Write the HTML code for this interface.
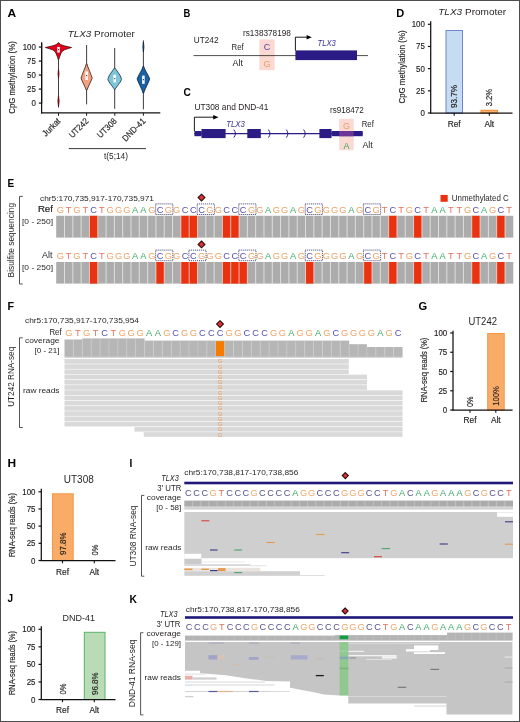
<!DOCTYPE html>
<html lang="en">
<head>
<meta charset="utf-8">
<title>TLX3 allele-specific methylation and expression</title>
<style>
html,body{margin:0;padding:0;background:#fff;}
body{width:520px;height:722px;overflow:hidden;position:relative;}
svg{display:block;position:absolute;left:0;top:0;font-family:"Liberation Sans",sans-serif;fill:#231f20;}
#frame{position:absolute;left:0;top:0;width:518px;height:720px;border:1px solid #4d4d4d;pointer-events:none;}
</style>
</head>
<body>
<svg width="520" height="722" viewBox="0 0 520 722">
<rect x="0" y="0" width="520" height="722" fill="#fff"/>
<text x="7.40" y="17.20" font-size="11.6" fill="#000" font-weight="bold" textLength="8.60" lengthAdjust="spacingAndGlyphs">A</text>
<text x="101.2" y="37.1" font-size="9.3" text-anchor="middle" fill="#231f20" textLength="67" lengthAdjust="spacingAndGlyphs"><tspan font-style="italic">TLX3</tspan> Promoter</text>
<line x1="41.60" y1="42.50" x2="41.60" y2="103.60" stroke="#111" stroke-width="1.25"/>
<line x1="38.80" y1="47.05" x2="41.60" y2="47.05" stroke="#111" stroke-width="1.2"/>
<text font-size="8.4" transform="translate(35.80 50.05) scale(0.94 1)" text-anchor="end" stroke="#231f20" stroke-width="0.16">100</text>
<line x1="38.80" y1="61.06" x2="41.60" y2="61.06" stroke="#111" stroke-width="1.2"/>
<text font-size="8.4" transform="translate(35.80 64.06) scale(0.94 1)" text-anchor="end" stroke="#231f20" stroke-width="0.16">75</text>
<line x1="38.80" y1="75.07" x2="41.60" y2="75.07" stroke="#111" stroke-width="1.2"/>
<text font-size="8.4" transform="translate(35.80 78.07) scale(0.94 1)" text-anchor="end" stroke="#231f20" stroke-width="0.16">50</text>
<line x1="38.80" y1="89.09" x2="41.60" y2="89.09" stroke="#111" stroke-width="1.2"/>
<text font-size="8.4" transform="translate(35.80 92.09) scale(0.94 1)" text-anchor="end" stroke="#231f20" stroke-width="0.16">25</text>
<line x1="38.80" y1="103.10" x2="41.60" y2="103.10" stroke="#111" stroke-width="1.2"/>
<text font-size="8.4" transform="translate(35.80 106.10) scale(0.94 1)" text-anchor="end" stroke="#231f20" stroke-width="0.16">0</text>
<line x1="41.60" y1="42.50" x2="41.60" y2="113.40" stroke="#111" stroke-width="1.25"/>
<line x1="41.00" y1="112.90" x2="160.30" y2="112.90" stroke="#111" stroke-width="1.25"/>
<text x="14.60" y="77.50" font-size="9.5" transform="rotate(-90 14.60 77.50)" text-anchor="middle" textLength="72.50" lengthAdjust="spacingAndGlyphs" stroke="#231f20" stroke-width="0.16">CpG methylation (%)</text>
<line x1="58.50" y1="112.80" x2="58.50" y2="115.80" stroke="#231f20" stroke-width="1"/>
<line x1="86.60" y1="112.80" x2="86.60" y2="115.80" stroke="#231f20" stroke-width="1"/>
<line x1="114.80" y1="112.80" x2="114.80" y2="115.80" stroke="#231f20" stroke-width="1"/>
<line x1="143.40" y1="112.80" x2="143.40" y2="115.80" stroke="#231f20" stroke-width="1"/>
<line x1="58.50" y1="42.80" x2="58.50" y2="107.50" stroke="#241a1c" stroke-width="0.85"/>
<path d="M58.50 69.30Q59.60 73.80 58.50 78.30Q57.40 73.80 58.50 69.30Z" fill="#e2001a" stroke="#4a0a0e" stroke-width="0.7"/>
<path d="M58.50 95.70Q59.90 101.20 58.50 106.70Q57.10 101.20 58.50 95.70Z" fill="#e2001a" stroke="#4a0a0e" stroke-width="0.7"/>
<path d="M58.20 42.80L56.30 44.60L53.00 45.80L48.50 46.80L45.40 47.50L49.00 48.60L52.50 49.80L54.70 51.20L55.90 53.00L56.70 55.00L57.60 57.50L58.20 59.50L58.80 59.50L59.40 57.50L60.30 55.00L61.10 53.00L62.30 51.20L64.50 49.80L68.00 48.60L71.60 47.50L68.50 46.80L64.00 45.80L60.70 44.60L58.80 42.80Z" fill="#e2001a" stroke="#4a0a0e" stroke-width="0.8" stroke-linejoin="round"/>
<rect x="57.25" y="46.90" width="2.50" height="5.60" fill="#fff"/>
<rect x="57.90" y="49.20" width="1.20" height="1.00" fill="#4a0a0e"/>
<line x1="86.60" y1="45.00" x2="86.60" y2="104.40" stroke="#241a1c" stroke-width="0.85"/>
<path d="M86.30 63.80L85.30 67.00L83.80 70.50L82.30 74.50L81.00 78.10L82.20 81.00L83.60 84.00L85.00 87.00L85.80 89.00L86.30 90.20L86.90 90.20L87.40 89.00L88.20 87.00L89.60 84.00L91.00 81.00L92.20 78.10L90.90 74.50L89.40 70.50L87.90 67.00L86.90 63.80Z" fill="#f2a283" stroke="#3a1e16" stroke-width="0.8" stroke-linejoin="round"/>
<rect x="85.35" y="71.30" width="2.50" height="8.70" fill="#fff"/>
<rect x="86.00" y="75.15" width="1.20" height="1.00" fill="#3a1e16"/>
<line x1="114.70" y1="48.00" x2="114.70" y2="108.80" stroke="#241a1c" stroke-width="0.85"/>
<path d="M114.40 68.00L113.10 70.00L110.90 73.00L109.00 76.00L107.80 79.40L109.10 82.00L110.90 84.50L112.80 87.00L114.00 88.80L114.40 89.60L115.00 89.60L115.40 88.80L116.60 87.00L118.50 84.50L120.30 82.00L121.60 79.40L120.40 76.00L118.50 73.00L116.30 70.00L115.00 68.00Z" fill="#7fc6dd" stroke="#14343c" stroke-width="0.8" stroke-linejoin="round"/>
<rect x="113.45" y="74.80" width="2.50" height="7.70" fill="#fff"/>
<rect x="114.10" y="78.15" width="1.20" height="1.00" fill="#14343c"/>
<line x1="143.40" y1="40.30" x2="143.40" y2="109.40" stroke="#241a1c" stroke-width="0.85"/>
<path d="M143.40 42.00Q144.60 47.00 143.40 52.00Q142.20 47.00 143.40 42.00Z" fill="#1b62a4" stroke="#0a2238" stroke-width="0.7"/>
<path d="M143.10 66.20L142.10 69.00L140.60 72.00L138.60 75.50L137.10 78.80L138.30 82.00L139.90 85.50L141.30 88.50L142.40 91.00L143.10 93.20L143.70 93.20L144.40 91.00L145.50 88.50L146.90 85.50L148.50 82.00L149.70 78.80L148.20 75.50L146.20 72.00L144.70 69.00L143.70 66.20Z" fill="#1b62a4" stroke="#0a2238" stroke-width="0.8" stroke-linejoin="round"/>
<rect x="142.15" y="75.60" width="2.50" height="8.20" fill="#fff"/>
<rect x="142.80" y="79.20" width="1.20" height="1.00" fill="#0a2238"/>
<text font-size="8.8" transform="translate(61.10 121.70) rotate(-45) scale(0.9 1)" text-anchor="end" stroke="#231f20" stroke-width="0.16">Jurkat</text>
<text font-size="8.8" transform="translate(89.20 121.70) rotate(-45) scale(0.9 1)" text-anchor="end" stroke="#231f20" stroke-width="0.16">UT242</text>
<text font-size="8.8" transform="translate(117.40 121.70) rotate(-45) scale(0.9 1)" text-anchor="end" stroke="#231f20" stroke-width="0.16">UT308</text>
<text font-size="8.8" transform="translate(146.00 121.70) rotate(-45) scale(0.9 1)" text-anchor="end" stroke="#231f20" stroke-width="0.16">DND-41</text>
<line x1="68.80" y1="148.60" x2="146.00" y2="148.60" stroke="#231f20" stroke-width="0.9"/>
<text x="116.00" y="159.20" font-size="8.5" text-anchor="middle" textLength="24.00" lengthAdjust="spacingAndGlyphs">t(5;14)</text>
<text x="183.50" y="17.30" font-size="11.6" fill="#000" font-weight="bold" textLength="6.80" lengthAdjust="spacingAndGlyphs">B</text>
<text x="193.80" y="43.30" font-size="9" textLength="24.70" lengthAdjust="spacingAndGlyphs">UT242</text>
<text x="242.90" y="36.20" font-size="8.5" textLength="48.00" lengthAdjust="spacingAndGlyphs">rs138378198</text>
<rect x="259.40" y="39.40" width="15.20" height="30.80" fill="#fbd8d1"/>
<text x="231.50" y="49.80" font-size="8.5" textLength="12.20" lengthAdjust="spacingAndGlyphs">Ref</text>
<text x="232.50" y="66.40" font-size="8.5" textLength="10.40" lengthAdjust="spacingAndGlyphs">Alt</text>
<text x="267.00" y="49.90" font-size="9" text-anchor="middle" fill="#4e47a6">C</text>
<text x="267.00" y="66.60" font-size="9" text-anchor="middle" fill="#eb9e5c">G</text>
<line x1="193.50" y1="55.60" x2="368.00" y2="55.60" stroke="#231f20" stroke-width="0.8"/>
<rect x="295.40" y="50.40" width="61.60" height="9.70" fill="#2a1c84"/>
<path d="M295.4 50.6V37.2H308" fill="none" stroke="#000" stroke-width="0.9"/>
<path d="M306.6 34.9L311.8 37.2L306.6 39.5Z" fill="#000"/>
<text x="317.50" y="45.70" font-size="9" fill="#3b2f96" font-style="italic" textLength="18.30" lengthAdjust="spacingAndGlyphs">TLX3</text>
<text x="183.50" y="96.40" font-size="11.6" fill="#000" font-weight="bold" textLength="7.30" lengthAdjust="spacingAndGlyphs">C</text>
<text x="194.40" y="109.90" font-size="9" textLength="74.00" lengthAdjust="spacingAndGlyphs">UT308 and DND-41</text>
<text x="330.00" y="113.10" font-size="8.5" textLength="33.70" lengthAdjust="spacingAndGlyphs">rs918472</text>
<path d="M194.4 131V117.2H214" fill="none" stroke="#000" stroke-width="0.9"/>
<path d="M213.2 114.9L218.5 117.2L213.2 119.5Z" fill="#000"/>
<text x="226.20" y="126.60" font-size="9" fill="#3b2f96" font-style="italic" textLength="18.60" lengthAdjust="spacingAndGlyphs">TLX3</text>
<rect x="339.20" y="118.80" width="14.50" height="31.40" fill="#fbdad4"/>
<line x1="194.40" y1="133.60" x2="362.70" y2="133.60" stroke="#2a1c84" stroke-width="1.1"/>
<rect x="194.40" y="131.00" width="7.20" height="5.20" fill="#2a1c84"/>
<rect x="201.50" y="129.00" width="24.10" height="9.10" fill="#2a1c84"/>
<rect x="247.30" y="129.00" width="13.50" height="9.10" fill="#2a1c84"/>
<rect x="319.40" y="129.00" width="12.10" height="9.10" fill="#2a1c84"/>
<rect x="331.50" y="131.00" width="31.20" height="5.20" fill="#2a1c84"/>
<path d="M233.8 129.6Q237.0 133.6 233.8 137.6" fill="none" stroke="#2a1c84" stroke-width="1"/>
<path d="M268.4 129.6Q271.6 133.6 268.4 137.6" fill="none" stroke="#2a1c84" stroke-width="1"/>
<path d="M286.3 129.6Q289.5 133.6 286.3 137.6" fill="none" stroke="#2a1c84" stroke-width="1"/>
<path d="M303.6 129.6Q306.8 133.6 303.6 137.6" fill="none" stroke="#2a1c84" stroke-width="1"/>
<rect x="339.20" y="131.00" width="14.50" height="5.20" fill="#6c3596"/>
<text x="346.50" y="128.60" font-size="9" text-anchor="middle" fill="#eb9e5c">G</text>
<text x="346.50" y="148.80" font-size="9" text-anchor="middle" fill="#36a862">A</text>
<text x="361.70" y="127.10" font-size="8.5" textLength="12.20" lengthAdjust="spacingAndGlyphs">Ref</text>
<text x="362.40" y="147.80" font-size="8.5" textLength="10.40" lengthAdjust="spacingAndGlyphs">Alt</text>
<text x="396.20" y="16.80" font-size="11.6" fill="#000" font-weight="bold" textLength="8.00" lengthAdjust="spacingAndGlyphs">D</text>
<text x="472.2" y="15.1" font-size="9.2" text-anchor="middle" fill="#231f20" textLength="68" lengthAdjust="spacingAndGlyphs"><tspan font-style="italic">TLX3</tspan> Promoter</text>
<rect x="446.00" y="30.50" width="16.50" height="82.50" fill="#c6dcf3" stroke="#6d86d2" stroke-width="1"/>
<rect x="481.00" y="110.30" width="16.50" height="2.70" fill="#fbb16c" stroke="#f08a2e" stroke-width="1"/>
<line x1="430.70" y1="21.20" x2="430.70" y2="113.50" stroke="#111" stroke-width="1.25"/>
<line x1="427.90" y1="24.30" x2="430.70" y2="24.30" stroke="#111" stroke-width="1.2"/>
<text font-size="8.4" transform="translate(424.90 27.30) scale(0.94 1)" text-anchor="end" stroke="#231f20" stroke-width="0.16">100</text>
<line x1="427.90" y1="46.47" x2="430.70" y2="46.47" stroke="#111" stroke-width="1.2"/>
<text font-size="8.4" transform="translate(424.90 49.47) scale(0.94 1)" text-anchor="end" stroke="#231f20" stroke-width="0.16">75</text>
<line x1="427.90" y1="68.65" x2="430.70" y2="68.65" stroke="#111" stroke-width="1.2"/>
<text font-size="8.4" transform="translate(424.90 71.65) scale(0.94 1)" text-anchor="end" stroke="#231f20" stroke-width="0.16">50</text>
<line x1="427.90" y1="90.83" x2="430.70" y2="90.83" stroke="#111" stroke-width="1.2"/>
<text font-size="8.4" transform="translate(424.90 93.83) scale(0.94 1)" text-anchor="end" stroke="#231f20" stroke-width="0.16">25</text>
<line x1="427.90" y1="113.00" x2="430.70" y2="113.00" stroke="#111" stroke-width="1.2"/>
<text font-size="8.4" transform="translate(424.90 116.00) scale(0.94 1)" text-anchor="end" stroke="#231f20" stroke-width="0.16">0</text>
<line x1="430.10" y1="113.00" x2="512.50" y2="113.00" stroke="#111" stroke-width="1.25"/>
<line x1="454.20" y1="113.00" x2="454.20" y2="115.70" stroke="#111" stroke-width="1.1"/>
<text x="454.20" y="126.50" font-size="8.3" text-anchor="middle" stroke="#231f20" stroke-width="0.16">Ref</text>
<text x="457.40" y="108.00" font-size="9.4" transform="rotate(-90 457.40 108.00)" textLength="23.00" lengthAdjust="spacingAndGlyphs" stroke="#231f20" stroke-width="0.16">93.7%</text>
<line x1="489.30" y1="113.00" x2="489.30" y2="115.70" stroke="#111" stroke-width="1.1"/>
<text x="489.30" y="126.50" font-size="8.3" text-anchor="middle" stroke="#231f20" stroke-width="0.16">Alt</text>
<text x="492.50" y="106.30" font-size="9.4" transform="rotate(-90 492.50 106.30)" textLength="17.50" lengthAdjust="spacingAndGlyphs" stroke="#231f20" stroke-width="0.16">3.2%</text>
<text x="404.50" y="67.00" font-size="9.5" transform="rotate(-90 404.50 67.00)" text-anchor="middle" textLength="73.00" lengthAdjust="spacingAndGlyphs" stroke="#231f20" stroke-width="0.16">CpG methylation (%)</text>
<text x="7.50" y="187.20" font-size="11.6" fill="#000" font-weight="bold" textLength="6.70" lengthAdjust="spacingAndGlyphs">E</text>
<path d="M22.80 196.40H19.50V284.00H22.80" fill="none" stroke="#2a2a2a" stroke-width="0.8"/>
<text x="14.40" y="240.20" font-size="9.2" transform="rotate(-90 14.40 240.20)" text-anchor="middle" textLength="74.50" lengthAdjust="spacingAndGlyphs">Bisulfite sequencing</text>
<text x="40.00" y="200.60" font-size="8" textLength="114.00" lengthAdjust="spacingAndGlyphs">chr5:170,735,917-170,735,971</text>
<text x="52.90" y="212.20" font-size="9.6" text-anchor="end" textLength="15.00" lengthAdjust="spacingAndGlyphs" stroke="#231f20" stroke-width="0.22">Ref</text>
<text x="53.00" y="223.70" font-size="8" text-anchor="end" textLength="31.00" lengthAdjust="spacingAndGlyphs">[0 - 250]</text>
<text y="212.80" font-size="9.69" text-anchor="middle" fill-opacity="0.95" transform="scale(0.96 1)"><tspan x="62.87" fill="#eb9e5c">G</tspan><tspan x="71.53" fill="#e26a54">T</tspan><tspan x="80.18" fill="#eb9e5c">G</tspan><tspan x="88.84" fill="#e26a54">T</tspan><tspan x="97.50" fill="#4e47a6">C</tspan><tspan x="106.16" fill="#e26a54">T</tspan><tspan x="114.81" fill="#eb9e5c">G</tspan><tspan x="123.47" fill="#eb9e5c">G</tspan><tspan x="132.13" fill="#eb9e5c">G</tspan><tspan x="140.79" fill="#36a862">A</tspan><tspan x="149.44" fill="#36a862">A</tspan><tspan x="158.10" fill="#eb9e5c">G</tspan><tspan x="166.76" fill="#4e47a6">C</tspan><tspan x="175.41" fill="#eb9e5c">G</tspan><tspan x="184.07" fill="#eb9e5c">G</tspan><tspan x="192.73" fill="#4e47a6">C</tspan><tspan x="201.39" fill="#4e47a6">C</tspan><tspan x="210.04" fill="#4e47a6">C</tspan><tspan x="218.70" fill="#eb9e5c">G</tspan><tspan x="227.36" fill="#eb9e5c">G</tspan><tspan x="236.01" fill="#4e47a6">C</tspan><tspan x="244.67" fill="#4e47a6">C</tspan><tspan x="253.33" fill="#4e47a6">C</tspan><tspan x="261.99" fill="#eb9e5c">G</tspan><tspan x="270.64" fill="#eb9e5c">G</tspan><tspan x="279.30" fill="#36a862">A</tspan><tspan x="287.96" fill="#eb9e5c">G</tspan><tspan x="296.61" fill="#eb9e5c">G</tspan><tspan x="305.27" fill="#36a862">A</tspan><tspan x="313.93" fill="#eb9e5c">G</tspan><tspan x="322.59" fill="#4e47a6">C</tspan><tspan x="331.24" fill="#eb9e5c">G</tspan><tspan x="339.90" fill="#eb9e5c">G</tspan><tspan x="348.56" fill="#eb9e5c">G</tspan><tspan x="357.21" fill="#eb9e5c">G</tspan><tspan x="365.87" fill="#36a862">A</tspan><tspan x="374.53" fill="#eb9e5c">G</tspan><tspan x="383.19" fill="#4e47a6">C</tspan><tspan x="391.84" fill="#eb9e5c">G</tspan><tspan x="400.50" fill="#e26a54">T</tspan><tspan x="409.16" fill="#4e47a6">C</tspan><tspan x="417.82" fill="#e26a54">T</tspan><tspan x="426.47" fill="#eb9e5c">G</tspan><tspan x="435.13" fill="#4e47a6">C</tspan><tspan x="443.79" fill="#e26a54">T</tspan><tspan x="452.44" fill="#36a862">A</tspan><tspan x="461.10" fill="#36a862">A</tspan><tspan x="469.76" fill="#e26a54">T</tspan><tspan x="478.42" fill="#e26a54">T</tspan><tspan x="487.07" fill="#eb9e5c">G</tspan><tspan x="495.73" fill="#4e47a6">C</tspan><tspan x="504.39" fill="#36a862">A</tspan><tspan x="513.04" fill="#eb9e5c">G</tspan><tspan x="521.70" fill="#4e47a6">C</tspan><tspan x="530.36" fill="#e26a54">T</tspan></text>
<rect x="155.63" y="203.90" width="17.22" height="10.60" fill="none" stroke="#1e1e55" stroke-width="0.85" stroke-dasharray="1 1"/>
<rect x="197.19" y="203.90" width="17.22" height="10.60" fill="none" stroke="#1e1e55" stroke-width="0.85" stroke-dasharray="1 1"/>
<rect x="238.74" y="203.90" width="17.22" height="10.60" fill="none" stroke="#1e1e55" stroke-width="0.85" stroke-dasharray="1 1"/>
<rect x="305.23" y="203.90" width="17.22" height="10.60" fill="none" stroke="#1e1e55" stroke-width="0.85" stroke-dasharray="1 1"/>
<rect x="363.40" y="203.90" width="17.22" height="10.60" fill="none" stroke="#1e1e55" stroke-width="0.85" stroke-dasharray="1 1"/>
<rect x="56.20" y="215.80" width="457.10" height="21.80" fill="#acacac"/>
<rect x="89.44" y="215.80" width="8.31" height="21.80" fill="#ea3210"/>
<rect x="180.86" y="215.80" width="8.31" height="21.80" fill="#ea3210"/>
<rect x="189.17" y="215.80" width="8.31" height="21.80" fill="#ea3210"/>
<rect x="222.42" y="215.80" width="8.31" height="21.80" fill="#ea3210"/>
<rect x="230.73" y="215.80" width="8.31" height="21.80" fill="#ea3210"/>
<rect x="388.64" y="215.80" width="8.31" height="21.80" fill="#ea3210"/>
<rect x="413.57" y="215.80" width="8.31" height="21.80" fill="#ea3210"/>
<rect x="471.75" y="215.80" width="8.31" height="21.80" fill="#ea3210"/>
<rect x="496.68" y="215.80" width="8.31" height="21.80" fill="#ea3210"/>
<path d="M64.51 215.80v21.80M72.82 215.80v21.80M81.13 215.80v21.80M89.44 215.80v21.80M97.75 215.80v21.80M106.07 215.80v21.80M114.38 215.80v21.80M122.69 215.80v21.80M131.00 215.80v21.80M139.31 215.80v21.80M147.62 215.80v21.80M155.93 215.80v21.80M164.24 215.80v21.80M172.55 215.80v21.80M180.86 215.80v21.80M189.17 215.80v21.80M197.49 215.80v21.80M205.80 215.80v21.80M214.11 215.80v21.80M222.42 215.80v21.80M230.73 215.80v21.80M239.04 215.80v21.80M247.35 215.80v21.80M255.66 215.80v21.80M263.97 215.80v21.80M272.28 215.80v21.80M280.59 215.80v21.80M288.91 215.80v21.80M297.22 215.80v21.80M305.53 215.80v21.80M313.84 215.80v21.80M322.15 215.80v21.80M330.46 215.80v21.80M338.77 215.80v21.80M347.08 215.80v21.80M355.39 215.80v21.80M363.70 215.80v21.80M372.01 215.80v21.80M380.33 215.80v21.80M388.64 215.80v21.80M396.95 215.80v21.80M405.26 215.80v21.80M413.57 215.80v21.80M421.88 215.80v21.80M430.19 215.80v21.80M438.50 215.80v21.80M446.81 215.80v21.80M455.12 215.80v21.80M463.43 215.80v21.80M471.75 215.80v21.80M480.06 215.80v21.80M488.37 215.80v21.80M496.68 215.80v21.80M504.99 215.80v21.80" fill="none" stroke="#fff" stroke-width="0.9" stroke-opacity="0.68"/>
<path d="M201.50 194.20L204.90 197.60L201.50 201.00L198.10 197.60Z" fill="#e2303a" stroke="#2a0c0c" stroke-width="1.1" stroke-linejoin="miter"/>
<text x="52.50" y="258.20" font-size="8.5" text-anchor="end" textLength="10.40" lengthAdjust="spacingAndGlyphs">Alt</text>
<text x="53.00" y="269.60" font-size="8" text-anchor="end" textLength="31.00" lengthAdjust="spacingAndGlyphs">[0 - 250]</text>
<text y="259.00" font-size="9.69" text-anchor="middle" fill-opacity="0.95" transform="scale(0.96 1)"><tspan x="62.87" fill="#eb9e5c">G</tspan><tspan x="71.53" fill="#e26a54">T</tspan><tspan x="80.18" fill="#eb9e5c">G</tspan><tspan x="88.84" fill="#e26a54">T</tspan><tspan x="97.50" fill="#4e47a6">C</tspan><tspan x="106.16" fill="#e26a54">T</tspan><tspan x="114.81" fill="#eb9e5c">G</tspan><tspan x="123.47" fill="#eb9e5c">G</tspan><tspan x="132.13" fill="#eb9e5c">G</tspan><tspan x="140.79" fill="#36a862">A</tspan><tspan x="149.44" fill="#36a862">A</tspan><tspan x="158.10" fill="#eb9e5c">G</tspan><tspan x="166.76" fill="#4e47a6">C</tspan><tspan x="175.41" fill="#eb9e5c">G</tspan><tspan x="184.07" fill="#eb9e5c">G</tspan><tspan x="192.73" fill="#4e47a6">C</tspan><tspan x="201.39" fill="#4e47a6">C</tspan><tspan x="210.04" fill="#eb9e5c">G</tspan><tspan x="218.70" fill="#eb9e5c">G</tspan><tspan x="227.36" fill="#eb9e5c">G</tspan><tspan x="236.01" fill="#4e47a6">C</tspan><tspan x="244.67" fill="#4e47a6">C</tspan><tspan x="253.33" fill="#4e47a6">C</tspan><tspan x="261.99" fill="#eb9e5c">G</tspan><tspan x="270.64" fill="#eb9e5c">G</tspan><tspan x="279.30" fill="#36a862">A</tspan><tspan x="287.96" fill="#eb9e5c">G</tspan><tspan x="296.61" fill="#eb9e5c">G</tspan><tspan x="305.27" fill="#36a862">A</tspan><tspan x="313.93" fill="#eb9e5c">G</tspan><tspan x="322.59" fill="#4e47a6">C</tspan><tspan x="331.24" fill="#eb9e5c">G</tspan><tspan x="339.90" fill="#eb9e5c">G</tspan><tspan x="348.56" fill="#eb9e5c">G</tspan><tspan x="357.21" fill="#eb9e5c">G</tspan><tspan x="365.87" fill="#36a862">A</tspan><tspan x="374.53" fill="#eb9e5c">G</tspan><tspan x="383.19" fill="#4e47a6">C</tspan><tspan x="391.84" fill="#eb9e5c">G</tspan><tspan x="400.50" fill="#e26a54">T</tspan><tspan x="409.16" fill="#4e47a6">C</tspan><tspan x="417.82" fill="#e26a54">T</tspan><tspan x="426.47" fill="#eb9e5c">G</tspan><tspan x="435.13" fill="#4e47a6">C</tspan><tspan x="443.79" fill="#e26a54">T</tspan><tspan x="452.44" fill="#36a862">A</tspan><tspan x="461.10" fill="#36a862">A</tspan><tspan x="469.76" fill="#e26a54">T</tspan><tspan x="478.42" fill="#e26a54">T</tspan><tspan x="487.07" fill="#eb9e5c">G</tspan><tspan x="495.73" fill="#4e47a6">C</tspan><tspan x="504.39" fill="#36a862">A</tspan><tspan x="513.04" fill="#eb9e5c">G</tspan><tspan x="521.70" fill="#4e47a6">C</tspan><tspan x="530.36" fill="#e26a54">T</tspan></text>
<rect x="155.63" y="250.10" width="17.22" height="10.60" fill="none" stroke="#1e1e55" stroke-width="0.85" stroke-dasharray="1 1"/>
<rect x="188.87" y="250.10" width="17.22" height="10.60" fill="none" stroke="#1e1e55" stroke-width="0.85" stroke-dasharray="1 1"/>
<rect x="238.74" y="250.10" width="17.22" height="10.60" fill="none" stroke="#1e1e55" stroke-width="0.85" stroke-dasharray="1 1"/>
<rect x="305.23" y="250.10" width="17.22" height="10.60" fill="none" stroke="#1e1e55" stroke-width="0.85" stroke-dasharray="1 1"/>
<rect x="363.40" y="250.10" width="17.22" height="10.60" fill="none" stroke="#1e1e55" stroke-width="0.85" stroke-dasharray="1 1"/>
<rect x="56.20" y="262.00" width="457.10" height="21.60" fill="#acacac"/>
<rect x="89.44" y="262.00" width="8.31" height="21.60" fill="#ea3210"/>
<rect x="155.93" y="262.00" width="8.31" height="21.60" fill="#ea3210"/>
<rect x="180.86" y="262.00" width="8.31" height="21.60" fill="#ea3210"/>
<rect x="189.17" y="262.00" width="8.31" height="21.60" fill="#ea3210"/>
<rect x="222.42" y="262.00" width="8.31" height="21.60" fill="#ea3210"/>
<rect x="230.73" y="262.00" width="8.31" height="21.60" fill="#ea3210"/>
<rect x="239.04" y="262.00" width="8.31" height="21.60" fill="#ea3210"/>
<rect x="305.53" y="262.00" width="8.31" height="21.60" fill="#ea3210"/>
<rect x="363.70" y="262.00" width="8.31" height="21.60" fill="#ea3210"/>
<rect x="388.64" y="262.00" width="8.31" height="21.60" fill="#ea3210"/>
<rect x="413.57" y="262.00" width="8.31" height="21.60" fill="#ea3210"/>
<rect x="471.75" y="262.00" width="8.31" height="21.60" fill="#ea3210"/>
<rect x="496.68" y="262.00" width="8.31" height="21.60" fill="#ea3210"/>
<path d="M64.51 262.00v21.60M72.82 262.00v21.60M81.13 262.00v21.60M89.44 262.00v21.60M97.75 262.00v21.60M106.07 262.00v21.60M114.38 262.00v21.60M122.69 262.00v21.60M131.00 262.00v21.60M139.31 262.00v21.60M147.62 262.00v21.60M155.93 262.00v21.60M164.24 262.00v21.60M172.55 262.00v21.60M180.86 262.00v21.60M189.17 262.00v21.60M197.49 262.00v21.60M205.80 262.00v21.60M214.11 262.00v21.60M222.42 262.00v21.60M230.73 262.00v21.60M239.04 262.00v21.60M247.35 262.00v21.60M255.66 262.00v21.60M263.97 262.00v21.60M272.28 262.00v21.60M280.59 262.00v21.60M288.91 262.00v21.60M297.22 262.00v21.60M305.53 262.00v21.60M313.84 262.00v21.60M322.15 262.00v21.60M330.46 262.00v21.60M338.77 262.00v21.60M347.08 262.00v21.60M355.39 262.00v21.60M363.70 262.00v21.60M372.01 262.00v21.60M380.33 262.00v21.60M388.64 262.00v21.60M396.95 262.00v21.60M405.26 262.00v21.60M413.57 262.00v21.60M421.88 262.00v21.60M430.19 262.00v21.60M438.50 262.00v21.60M446.81 262.00v21.60M455.12 262.00v21.60M463.43 262.00v21.60M471.75 262.00v21.60M480.06 262.00v21.60M488.37 262.00v21.60M496.68 262.00v21.60M504.99 262.00v21.60" fill="none" stroke="#fff" stroke-width="0.9" stroke-opacity="0.68"/>
<path d="M201.50 241.00L204.90 244.40L201.50 247.80L198.10 244.40Z" fill="#e2303a" stroke="#2a0c0c" stroke-width="1.1" stroke-linejoin="miter"/>
<rect x="440.50" y="194.90" width="7.20" height="6.90" fill="#ea3210"/>
<text x="451.80" y="201.00" font-size="8.4" textLength="57.00" lengthAdjust="spacingAndGlyphs">Unmethylated C</text>
<text x="7.50" y="309.60" font-size="11.6" fill="#000" font-weight="bold" textLength="6.50" lengthAdjust="spacingAndGlyphs">F</text>
<text x="25.00" y="322.60" font-size="8" textLength="114.00" lengthAdjust="spacingAndGlyphs">chr5:170,735,917-170,735,954</text>
<text x="61.70" y="335.10" font-size="8.5" text-anchor="end" textLength="12.30" lengthAdjust="spacingAndGlyphs">Ref</text>
<text y="335.90" font-size="9.69" text-anchor="middle" fill-opacity="0.95" transform="scale(0.96 1)"><tspan x="71.82" fill="#eb9e5c">G</tspan><tspan x="81.09" fill="#e26a54">T</tspan><tspan x="90.35" fill="#eb9e5c">G</tspan><tspan x="99.62" fill="#e26a54">T</tspan><tspan x="108.88" fill="#4e47a6">C</tspan><tspan x="118.15" fill="#e26a54">T</tspan><tspan x="127.41" fill="#eb9e5c">G</tspan><tspan x="136.68" fill="#eb9e5c">G</tspan><tspan x="145.94" fill="#eb9e5c">G</tspan><tspan x="155.21" fill="#36a862">A</tspan><tspan x="164.47" fill="#36a862">A</tspan><tspan x="173.74" fill="#eb9e5c">G</tspan><tspan x="183.00" fill="#4e47a6">C</tspan><tspan x="192.27" fill="#eb9e5c">G</tspan><tspan x="201.54" fill="#eb9e5c">G</tspan><tspan x="210.80" fill="#4e47a6">C</tspan><tspan x="220.07" fill="#4e47a6">C</tspan><tspan x="229.33" fill="#4e47a6">C</tspan><tspan x="238.60" fill="#eb9e5c">G</tspan><tspan x="247.86" fill="#eb9e5c">G</tspan><tspan x="257.13" fill="#4e47a6">C</tspan><tspan x="266.39" fill="#4e47a6">C</tspan><tspan x="275.66" fill="#4e47a6">C</tspan><tspan x="284.92" fill="#eb9e5c">G</tspan><tspan x="294.19" fill="#eb9e5c">G</tspan><tspan x="303.45" fill="#36a862">A</tspan><tspan x="312.72" fill="#eb9e5c">G</tspan><tspan x="321.98" fill="#eb9e5c">G</tspan><tspan x="331.25" fill="#36a862">A</tspan><tspan x="340.52" fill="#eb9e5c">G</tspan><tspan x="349.78" fill="#4e47a6">C</tspan><tspan x="359.05" fill="#eb9e5c">G</tspan><tspan x="368.31" fill="#eb9e5c">G</tspan><tspan x="377.58" fill="#eb9e5c">G</tspan><tspan x="386.84" fill="#eb9e5c">G</tspan><tspan x="396.11" fill="#36a862">A</tspan><tspan x="405.37" fill="#eb9e5c">G</tspan><tspan x="414.64" fill="#4e47a6">C</tspan></text>
<path d="M220.00 320.70L223.40 324.10L220.00 327.50L216.60 324.10Z" fill="#e2303a" stroke="#2a0c0c" stroke-width="1.1" stroke-linejoin="miter"/>
<path d="M22.80 337.80H19.50V427.50H22.80" fill="none" stroke="#2a2a2a" stroke-width="0.8"/>
<text x="14.40" y="376.80" font-size="8.8" transform="rotate(-90 14.40 376.80)" text-anchor="middle" textLength="60.00" lengthAdjust="spacingAndGlyphs">UT242 RNA-seq</text>
<text x="59.50" y="343.20" font-size="8" text-anchor="end" textLength="34.50" lengthAdjust="spacingAndGlyphs">coverage</text>
<text x="59.50" y="353.20" font-size="8" text-anchor="end" textLength="25.00" lengthAdjust="spacingAndGlyphs">[0 - 21]</text>
<text x="59.50" y="392.60" font-size="8" text-anchor="end" textLength="36.50" lengthAdjust="spacingAndGlyphs">raw reads</text>
<rect x="64.50" y="339.50" width="8.94" height="17.40" fill="#b6b6b6"/>
<rect x="73.39" y="339.50" width="8.94" height="17.40" fill="#b6b6b6"/>
<rect x="82.29" y="338.40" width="8.94" height="18.50" fill="#b6b6b6"/>
<rect x="91.18" y="338.40" width="8.94" height="18.50" fill="#b6b6b6"/>
<rect x="100.08" y="338.40" width="8.94" height="18.50" fill="#b6b6b6"/>
<rect x="108.97" y="338.40" width="8.94" height="18.50" fill="#b6b6b6"/>
<rect x="117.87" y="338.40" width="8.94" height="18.50" fill="#b6b6b6"/>
<rect x="126.76" y="338.40" width="8.94" height="18.50" fill="#b6b6b6"/>
<rect x="135.66" y="338.40" width="8.94" height="18.50" fill="#b6b6b6"/>
<rect x="144.55" y="340.60" width="8.94" height="16.30" fill="#b6b6b6"/>
<rect x="153.45" y="340.60" width="8.94" height="16.30" fill="#b6b6b6"/>
<rect x="162.34" y="340.60" width="8.94" height="16.30" fill="#b6b6b6"/>
<rect x="171.24" y="340.60" width="8.94" height="16.30" fill="#b6b6b6"/>
<rect x="180.13" y="340.60" width="8.94" height="16.30" fill="#b6b6b6"/>
<rect x="189.03" y="340.60" width="8.94" height="16.30" fill="#b6b6b6"/>
<rect x="197.92" y="340.60" width="8.94" height="16.30" fill="#b6b6b6"/>
<rect x="206.82" y="340.60" width="8.94" height="16.30" fill="#b6b6b6"/>
<rect x="215.71" y="340.60" width="8.94" height="16.30" fill="#b6b6b6"/>
<rect x="224.61" y="340.60" width="8.94" height="16.30" fill="#b6b6b6"/>
<rect x="233.50" y="340.60" width="8.94" height="16.30" fill="#b6b6b6"/>
<rect x="242.39" y="340.60" width="8.94" height="16.30" fill="#b6b6b6"/>
<rect x="251.29" y="340.60" width="8.94" height="16.30" fill="#b6b6b6"/>
<rect x="260.18" y="340.60" width="8.94" height="16.30" fill="#b6b6b6"/>
<rect x="269.08" y="340.60" width="8.94" height="16.30" fill="#b6b6b6"/>
<rect x="277.97" y="340.60" width="8.94" height="16.30" fill="#b6b6b6"/>
<rect x="286.87" y="340.60" width="8.94" height="16.30" fill="#b6b6b6"/>
<rect x="295.76" y="340.60" width="8.94" height="16.30" fill="#b6b6b6"/>
<rect x="304.66" y="340.60" width="8.94" height="16.30" fill="#b6b6b6"/>
<rect x="313.55" y="340.60" width="8.94" height="16.30" fill="#b6b6b6"/>
<rect x="322.45" y="340.60" width="8.94" height="16.30" fill="#b6b6b6"/>
<rect x="331.34" y="340.60" width="8.94" height="16.30" fill="#b6b6b6"/>
<rect x="340.24" y="340.60" width="8.94" height="16.30" fill="#b6b6b6"/>
<rect x="349.13" y="344.20" width="8.94" height="12.70" fill="#b6b6b6"/>
<rect x="358.03" y="344.20" width="8.94" height="12.70" fill="#b6b6b6"/>
<rect x="366.92" y="347.00" width="8.94" height="9.90" fill="#b6b6b6"/>
<rect x="375.82" y="347.00" width="8.94" height="9.90" fill="#b6b6b6"/>
<rect x="384.71" y="347.00" width="8.94" height="9.90" fill="#b6b6b6"/>
<rect x="393.61" y="347.00" width="8.94" height="9.90" fill="#b6b6b6"/>
<path d="M73.39 339.50V356.9M82.29 339.50V356.9M91.18 338.40V356.9M100.08 338.40V356.9M108.97 338.40V356.9M117.87 338.40V356.9M126.76 338.40V356.9M135.66 338.40V356.9M144.55 340.60V356.9M153.45 340.60V356.9M162.34 340.60V356.9M171.24 340.60V356.9M180.13 340.60V356.9M189.03 340.60V356.9M197.92 340.60V356.9M206.82 340.60V356.9M215.71 340.60V356.9M224.61 340.60V356.9M233.50 340.60V356.9M242.39 340.60V356.9M251.29 340.60V356.9M260.18 340.60V356.9M269.08 340.60V356.9M277.97 340.60V356.9M286.87 340.60V356.9M295.76 340.60V356.9M304.66 340.60V356.9M313.55 340.60V356.9M322.45 340.60V356.9M331.34 340.60V356.9M340.24 340.60V356.9M349.13 344.20V356.9M358.03 344.20V356.9M366.92 347.00V356.9M375.82 347.00V356.9M384.71 347.00V356.9M393.61 347.00V356.9" fill="none" stroke="#d2d2d2" stroke-width="0.7" stroke-opacity="0.8"/>
<rect x="64.50" y="356.90" width="338.00" height="0.90" fill="#cfcfcf"/>
<rect x="215.91" y="341.20" width="8.29" height="14.80" fill="#f57c00"/>
<rect x="64.50" y="358.75" width="284.25" height="5.22" fill="#f6f6f6"/>
<rect x="64.50" y="359.10" width="284.25" height="4.52" fill="#d9d9d9"/>
<rect x="64.50" y="363.98" width="284.25" height="5.22" fill="#f6f6f6"/>
<rect x="64.50" y="364.33" width="284.25" height="4.52" fill="#d9d9d9"/>
<rect x="64.50" y="369.20" width="284.25" height="5.22" fill="#f6f6f6"/>
<rect x="64.50" y="369.55" width="284.25" height="4.52" fill="#d9d9d9"/>
<rect x="64.50" y="374.43" width="302.50" height="5.22" fill="#f6f6f6"/>
<rect x="64.50" y="374.78" width="302.50" height="4.52" fill="#d9d9d9"/>
<rect x="64.50" y="379.65" width="302.50" height="5.22" fill="#f6f6f6"/>
<rect x="64.50" y="380.00" width="302.50" height="4.52" fill="#d9d9d9"/>
<rect x="64.50" y="384.88" width="302.50" height="5.22" fill="#f6f6f6"/>
<rect x="64.50" y="385.23" width="302.50" height="4.52" fill="#d9d9d9"/>
<rect x="64.50" y="390.10" width="338.00" height="5.22" fill="#f6f6f6"/>
<rect x="64.50" y="390.45" width="338.00" height="4.52" fill="#d9d9d9"/>
<rect x="64.50" y="395.32" width="338.00" height="5.22" fill="#f6f6f6"/>
<rect x="64.50" y="395.68" width="338.00" height="4.52" fill="#d9d9d9"/>
<rect x="64.50" y="400.55" width="338.00" height="5.22" fill="#f6f6f6"/>
<rect x="64.50" y="400.90" width="338.00" height="4.52" fill="#d9d9d9"/>
<rect x="64.50" y="405.77" width="338.00" height="5.22" fill="#f6f6f6"/>
<rect x="64.50" y="406.12" width="338.00" height="4.52" fill="#d9d9d9"/>
<rect x="64.50" y="411.00" width="338.00" height="5.22" fill="#f6f6f6"/>
<rect x="64.50" y="411.35" width="338.00" height="4.52" fill="#d9d9d9"/>
<rect x="64.50" y="416.23" width="338.00" height="5.22" fill="#f6f6f6"/>
<rect x="64.50" y="416.58" width="338.00" height="4.52" fill="#d9d9d9"/>
<rect x="64.50" y="421.45" width="338.00" height="5.22" fill="#f6f6f6"/>
<rect x="64.50" y="421.80" width="338.00" height="4.52" fill="#d9d9d9"/>
<rect x="134.50" y="426.68" width="268.00" height="5.22" fill="#f6f6f6"/>
<rect x="134.50" y="427.03" width="268.00" height="4.52" fill="#d9d9d9"/>
<rect x="143.80" y="431.90" width="258.70" height="5.22" fill="#f6f6f6"/>
<rect x="143.80" y="432.25" width="258.70" height="4.52" fill="#d9d9d9"/>
<text font-size="5.6" text-anchor="middle" fill="#e99a55"><tspan x="220.16" y="363.35">G</tspan><tspan x="220.16" y="368.58">G</tspan><tspan x="220.16" y="373.80">G</tspan><tspan x="220.16" y="379.03">G</tspan><tspan x="220.16" y="384.25">G</tspan><tspan x="220.16" y="389.48">G</tspan><tspan x="220.16" y="394.70">G</tspan><tspan x="220.16" y="399.93">G</tspan><tspan x="220.16" y="405.15">G</tspan><tspan x="220.16" y="410.38">G</tspan><tspan x="220.16" y="415.60">G</tspan><tspan x="220.16" y="420.83">G</tspan><tspan x="220.16" y="426.05">G</tspan><tspan x="220.16" y="431.28">G</tspan><tspan x="220.16" y="436.50">G</tspan></text>
<text x="418.50" y="310.00" font-size="11.6" fill="#000" font-weight="bold" textLength="8.70" lengthAdjust="spacingAndGlyphs">G</text>
<text x="482.70" y="325.00" font-size="10" text-anchor="middle" textLength="28.50" lengthAdjust="spacingAndGlyphs">UT242</text>
<rect x="487.70" y="333.50" width="16.50" height="76.50" fill="#f9ac68" stroke="#f39648" stroke-width="1"/>
<line x1="453.00" y1="330.80" x2="453.00" y2="410.50" stroke="#111" stroke-width="1.25"/>
<line x1="450.20" y1="333.00" x2="453.00" y2="333.00" stroke="#111" stroke-width="1.2"/>
<text font-size="8.4" transform="translate(447.20 336.00) scale(0.94 1)" text-anchor="end" stroke="#231f20" stroke-width="0.16">100</text>
<line x1="450.20" y1="352.25" x2="453.00" y2="352.25" stroke="#111" stroke-width="1.2"/>
<text font-size="8.4" transform="translate(447.20 355.25) scale(0.94 1)" text-anchor="end" stroke="#231f20" stroke-width="0.16">75</text>
<line x1="450.20" y1="371.50" x2="453.00" y2="371.50" stroke="#111" stroke-width="1.2"/>
<text font-size="8.4" transform="translate(447.20 374.50) scale(0.94 1)" text-anchor="end" stroke="#231f20" stroke-width="0.16">50</text>
<line x1="450.20" y1="390.75" x2="453.00" y2="390.75" stroke="#111" stroke-width="1.2"/>
<text font-size="8.4" transform="translate(447.20 393.75) scale(0.94 1)" text-anchor="end" stroke="#231f20" stroke-width="0.16">25</text>
<line x1="450.20" y1="410.00" x2="453.00" y2="410.00" stroke="#111" stroke-width="1.2"/>
<text font-size="8.4" transform="translate(447.20 413.00) scale(0.94 1)" text-anchor="end" stroke="#231f20" stroke-width="0.16">0</text>
<line x1="452.40" y1="410.00" x2="512.60" y2="410.00" stroke="#111" stroke-width="1.25"/>
<line x1="470.00" y1="410.00" x2="470.00" y2="412.70" stroke="#111" stroke-width="1.1"/>
<text x="470.00" y="423.40" font-size="8.3" text-anchor="middle" stroke="#231f20" stroke-width="0.16">Ref</text>
<text x="473.20" y="407.00" font-size="9.4" transform="rotate(-90 473.20 407.00)" textLength="10.60" lengthAdjust="spacingAndGlyphs" stroke="#231f20" stroke-width="0.16">0%</text>
<line x1="495.80" y1="410.00" x2="495.80" y2="412.70" stroke="#111" stroke-width="1.1"/>
<text x="495.80" y="423.40" font-size="8.3" text-anchor="middle" stroke="#231f20" stroke-width="0.16">Alt</text>
<text x="499.00" y="405.80" font-size="9.4" transform="rotate(-90 499.00 405.80)" textLength="19.80" lengthAdjust="spacingAndGlyphs" stroke="#231f20" stroke-width="0.16">100%</text>
<text x="427.00" y="370.00" font-size="9.5" transform="rotate(-90 427.00 370.00)" text-anchor="middle" textLength="64.60" lengthAdjust="spacingAndGlyphs" stroke="#231f20" stroke-width="0.16">RNA-seq reads (%)</text>
<text x="7.50" y="467.00" font-size="11.6" fill="#000" font-weight="bold" textLength="8.60" lengthAdjust="spacingAndGlyphs">H</text>
<text x="78.80" y="483.00" font-size="10" text-anchor="middle" textLength="30.00" lengthAdjust="spacingAndGlyphs">UT308</text>
<rect x="52.50" y="493.80" width="20.70" height="66.70" fill="#f9ac68" stroke="#f39648" stroke-width="1"/>
<line x1="41.30" y1="488.80" x2="41.30" y2="561.00" stroke="#111" stroke-width="1.25"/>
<line x1="38.50" y1="491.80" x2="41.30" y2="491.80" stroke="#111" stroke-width="1.2"/>
<text font-size="8.4" transform="translate(35.50 494.80) scale(0.94 1)" text-anchor="end" stroke="#231f20" stroke-width="0.16">100</text>
<line x1="38.50" y1="508.98" x2="41.30" y2="508.98" stroke="#111" stroke-width="1.2"/>
<text font-size="8.4" transform="translate(35.50 511.98) scale(0.94 1)" text-anchor="end" stroke="#231f20" stroke-width="0.16">75</text>
<line x1="38.50" y1="526.15" x2="41.30" y2="526.15" stroke="#111" stroke-width="1.2"/>
<text font-size="8.4" transform="translate(35.50 529.15) scale(0.94 1)" text-anchor="end" stroke="#231f20" stroke-width="0.16">50</text>
<line x1="38.50" y1="543.33" x2="41.30" y2="543.33" stroke="#111" stroke-width="1.2"/>
<text font-size="8.4" transform="translate(35.50 546.33) scale(0.94 1)" text-anchor="end" stroke="#231f20" stroke-width="0.16">25</text>
<line x1="38.50" y1="560.50" x2="41.30" y2="560.50" stroke="#111" stroke-width="1.2"/>
<text font-size="8.4" transform="translate(35.50 563.50) scale(0.94 1)" text-anchor="end" stroke="#231f20" stroke-width="0.16">0</text>
<line x1="40.70" y1="560.50" x2="115.50" y2="560.50" stroke="#111" stroke-width="1.25"/>
<line x1="62.50" y1="560.50" x2="62.50" y2="563.20" stroke="#111" stroke-width="1.1"/>
<text x="62.50" y="574.50" font-size="8.3" text-anchor="middle" stroke="#231f20" stroke-width="0.16">Ref</text>
<text x="65.70" y="555.00" font-size="9.4" transform="rotate(-90 65.70 555.00)" textLength="22.60" lengthAdjust="spacingAndGlyphs" stroke="#231f20" stroke-width="0.16">97.8%</text>
<line x1="94.30" y1="560.50" x2="94.30" y2="563.20" stroke="#111" stroke-width="1.1"/>
<text x="94.30" y="574.50" font-size="8.3" text-anchor="middle" stroke="#231f20" stroke-width="0.16">Alt</text>
<text x="97.50" y="555.50" font-size="9.4" transform="rotate(-90 97.50 555.50)" textLength="10.80" lengthAdjust="spacingAndGlyphs" stroke="#231f20" stroke-width="0.16">0%</text>
<text x="14.60" y="525.00" font-size="9.5" transform="rotate(-90 14.60 525.00)" text-anchor="middle" textLength="64.00" lengthAdjust="spacingAndGlyphs" stroke="#231f20" stroke-width="0.16">RNA-seq reads (%)</text>
<text x="129.50" y="467.00" font-size="11.6" fill="#000" font-weight="bold" textLength="2.80" lengthAdjust="spacingAndGlyphs">I</text>
<text x="184.30" y="475.10" font-size="8" textLength="114.00" lengthAdjust="spacingAndGlyphs">chr5:170,738,817-170,738,856</text>
<text x="178.80" y="480.60" font-size="8.5" text-anchor="end" font-style="italic" textLength="17.50" lengthAdjust="spacingAndGlyphs">TLX3</text>
<text x="181.30" y="491.30" font-size="8.5" text-anchor="end" textLength="24.00" lengthAdjust="spacingAndGlyphs">3' UTR</text>
<rect x="184.30" y="481.70" width="328.70" height="2.60" fill="#1f1878"/>
<text y="496.00" font-size="9.58" text-anchor="middle" fill-opacity="0.92" transform="scale(0.96 1)"><tspan x="196.26" fill="#45427c">C</tspan><tspan x="204.82" fill="#45427c">C</tspan><tspan x="213.38" fill="#45427c">C</tspan><tspan x="221.94" fill="#eaa060">G</tspan><tspan x="230.50" fill="#e06650">T</tspan><tspan x="239.06" fill="#45427c">C</tspan><tspan x="247.62" fill="#45427c">C</tspan><tspan x="256.18" fill="#45427c">C</tspan><tspan x="264.74" fill="#eaa060">G</tspan><tspan x="273.30" fill="#45427c">C</tspan><tspan x="281.86" fill="#45427c">C</tspan><tspan x="290.42" fill="#45427c">C</tspan><tspan x="298.98" fill="#45427c">C</tspan><tspan x="307.54" fill="#2fa35c">A</tspan><tspan x="316.10" fill="#eaa060">G</tspan><tspan x="324.66" fill="#eaa060">G</tspan><tspan x="333.22" fill="#45427c">C</tspan><tspan x="341.78" fill="#45427c">C</tspan><tspan x="350.34" fill="#45427c">C</tspan><tspan x="358.90" fill="#eaa060">G</tspan><tspan x="367.46" fill="#eaa060">G</tspan><tspan x="376.02" fill="#eaa060">G</tspan><tspan x="384.58" fill="#45427c">C</tspan><tspan x="393.14" fill="#45427c">C</tspan><tspan x="401.70" fill="#e06650">T</tspan><tspan x="410.26" fill="#eaa060">G</tspan><tspan x="418.82" fill="#2fa35c">A</tspan><tspan x="427.38" fill="#45427c">C</tspan><tspan x="435.94" fill="#2fa35c">A</tspan><tspan x="444.50" fill="#2fa35c">A</tspan><tspan x="453.06" fill="#eaa060">G</tspan><tspan x="461.62" fill="#2fa35c">A</tspan><tspan x="470.18" fill="#2fa35c">A</tspan><tspan x="478.74" fill="#2fa35c">A</tspan><tspan x="487.30" fill="#eaa060">G</tspan><tspan x="495.86" fill="#45427c">C</tspan><tspan x="504.42" fill="#eaa060">G</tspan><tspan x="512.98" fill="#45427c">C</tspan><tspan x="521.54" fill="#45427c">C</tspan><tspan x="530.10" fill="#e06650">T</tspan></text>
<path d="M345.30 472.60L348.30 475.60L345.30 478.60L342.30 475.60Z" fill="#e2303a" stroke="#2a0c0c" stroke-width="1.1" stroke-linejoin="miter"/>
<path d="M144.30 495.40H141.50V576.20H144.30" fill="none" stroke="#2a2a2a" stroke-width="0.8"/>
<text x="135.80" y="536.00" font-size="8.8" transform="rotate(-90 135.80 536.00)" text-anchor="middle" textLength="61.00" lengthAdjust="spacingAndGlyphs">UT308 RNA-seq</text>
<text x="181.30" y="499.90" font-size="8" text-anchor="end" textLength="34.50" lengthAdjust="spacingAndGlyphs">coverage</text>
<text x="181.30" y="510.10" font-size="8" text-anchor="end" textLength="25.00" lengthAdjust="spacingAndGlyphs">[0 - 58]</text>
<text x="181.30" y="550.30" font-size="8" text-anchor="end" textLength="36.00" lengthAdjust="spacingAndGlyphs">raw reads</text>
<rect x="184.30" y="500.60" width="328.70" height="6.10" fill="#ababab"/>
<rect x="184.30" y="506.70" width="328.70" height="2.90" fill="#d2d2d2"/>
<path d="M192.52 500.6v9M200.74 500.6v9M208.95 500.6v9M217.17 500.6v9M225.39 500.6v9M233.61 500.6v9M241.82 500.6v9M250.04 500.6v9M258.26 500.6v9M266.48 500.6v9M274.69 500.6v9M282.91 500.6v9M291.13 500.6v9M299.35 500.6v9M307.56 500.6v9M315.78 500.6v9M324.00 500.6v9M332.22 500.6v9M340.43 500.6v9M348.65 500.6v9M356.87 500.6v9M365.09 500.6v9M373.30 500.6v9M381.52 500.6v9M389.74 500.6v9M397.95 500.6v9M406.17 500.6v9M414.39 500.6v9M422.61 500.6v9M430.82 500.6v9M439.04 500.6v9M447.26 500.6v9M455.48 500.6v9M463.69 500.6v9M471.91 500.6v9M480.13 500.6v9M488.35 500.6v9M496.56 500.6v9M504.78 500.6v9" fill="none" stroke="#d6d6d6" stroke-width="0.7" stroke-opacity="0.7"/>
<rect x="184.30" y="512.00" width="328.70" height="46.20" fill="#cfcfcf"/>
<rect x="497.00" y="512.40" width="16.00" height="4.40" fill="#fff"/>
<rect x="184.30" y="553.80" width="17.00" height="4.60" fill="#fff"/>
<rect x="184.30" y="558.80" width="17.20" height="5.40" fill="#cacaca"/>
<rect x="201.50" y="561.60" width="44.00" height="0.70" fill="#e2e2e2"/>
<rect x="184.30" y="564.30" width="66.00" height="1.60" fill="#d2d2d8"/>
<rect x="250.00" y="565.40" width="17.00" height="0.80" fill="#dcdcdc"/>
<rect x="184.30" y="567.80" width="76.00" height="3.20" fill="#ebe4de"/>
<rect x="184.30" y="571.20" width="115.70" height="4.60" fill="#d0d0d0"/>
<rect x="300.00" y="575.00" width="24.60" height="0.80" fill="#d8d8d8"/>
<rect x="201.30" y="520.25" width="8.00" height="1.10" fill="#d8453c"/>
<rect x="210.00" y="549.45" width="7.60" height="1.10" fill="#3d3a86"/>
<rect x="234.30" y="549.45" width="7.80" height="1.10" fill="#4aa66a"/>
<rect x="266.60" y="541.95" width="8.20" height="1.10" fill="#e79a4e"/>
<rect x="316.20" y="533.95" width="8.20" height="1.10" fill="#e79a4e"/>
<rect x="341.20" y="552.15" width="8.00" height="1.10" fill="#3d3a86"/>
<rect x="374.00" y="556.15" width="8.00" height="1.10" fill="#d8453c"/>
<rect x="381.60" y="548.05" width="8.40" height="1.10" fill="#4aa66a"/>
<rect x="439.60" y="543.45" width="8.20" height="1.10" fill="#3d3a86"/>
<rect x="505.00" y="521.25" width="8.00" height="1.10" fill="#3d3a86"/>
<rect x="505.00" y="543.65" width="8.00" height="1.10" fill="#e79a4e"/>
<rect x="184.30" y="568.50" width="8.20" height="1.60" fill="#e79a4e"/>
<rect x="201.30" y="568.60" width="7.60" height="1.40" fill="#e79a4e"/>
<rect x="218.00" y="568.10" width="7.60" height="3.00" fill="#e79a4e"/>
<rect x="210.00" y="570.00" width="7.60" height="1.20" fill="#3d3a86"/>
<rect x="234.30" y="572.05" width="7.80" height="1.10" fill="#4aa66a"/>
<text x="7.50" y="602.30" font-size="11.6" fill="#000" font-weight="bold" textLength="5.60" lengthAdjust="spacingAndGlyphs">J</text>
<text x="78.80" y="620.50" font-size="9.5" text-anchor="middle" textLength="32.50" lengthAdjust="spacingAndGlyphs">DND-41</text>
<rect x="84.30" y="632.30" width="20.70" height="67.20" fill="#b9dcb6" stroke="#58b46a" stroke-width="1"/>
<line x1="41.30" y1="626.30" x2="41.30" y2="700.00" stroke="#111" stroke-width="1.25"/>
<line x1="38.50" y1="629.30" x2="41.30" y2="629.30" stroke="#111" stroke-width="1.2"/>
<text font-size="8.4" transform="translate(35.50 632.30) scale(0.94 1)" text-anchor="end" stroke="#231f20" stroke-width="0.16">100</text>
<line x1="38.50" y1="646.85" x2="41.30" y2="646.85" stroke="#111" stroke-width="1.2"/>
<text font-size="8.4" transform="translate(35.50 649.85) scale(0.94 1)" text-anchor="end" stroke="#231f20" stroke-width="0.16">75</text>
<line x1="38.50" y1="664.40" x2="41.30" y2="664.40" stroke="#111" stroke-width="1.2"/>
<text font-size="8.4" transform="translate(35.50 667.40) scale(0.94 1)" text-anchor="end" stroke="#231f20" stroke-width="0.16">50</text>
<line x1="38.50" y1="681.95" x2="41.30" y2="681.95" stroke="#111" stroke-width="1.2"/>
<text font-size="8.4" transform="translate(35.50 684.95) scale(0.94 1)" text-anchor="end" stroke="#231f20" stroke-width="0.16">25</text>
<line x1="38.50" y1="699.50" x2="41.30" y2="699.50" stroke="#111" stroke-width="1.2"/>
<text font-size="8.4" transform="translate(35.50 702.50) scale(0.94 1)" text-anchor="end" stroke="#231f20" stroke-width="0.16">0</text>
<line x1="40.70" y1="699.50" x2="115.50" y2="699.50" stroke="#111" stroke-width="1.25"/>
<line x1="62.50" y1="699.50" x2="62.50" y2="702.20" stroke="#111" stroke-width="1.1"/>
<text x="62.50" y="712.80" font-size="8.3" text-anchor="middle" stroke="#231f20" stroke-width="0.16">Ref</text>
<text x="65.70" y="694.50" font-size="9.4" transform="rotate(-90 65.70 694.50)" textLength="11.00" lengthAdjust="spacingAndGlyphs" stroke="#231f20" stroke-width="0.16">0%</text>
<line x1="94.30" y1="699.50" x2="94.30" y2="702.20" stroke="#111" stroke-width="1.1"/>
<text x="94.30" y="712.80" font-size="8.3" text-anchor="middle" stroke="#231f20" stroke-width="0.16">Alt</text>
<text x="97.50" y="695.00" font-size="9.4" transform="rotate(-90 97.50 695.00)" textLength="22.60" lengthAdjust="spacingAndGlyphs" stroke="#231f20" stroke-width="0.16">96.8%</text>
<text x="14.60" y="663.00" font-size="9.5" transform="rotate(-90 14.60 663.00)" text-anchor="middle" textLength="64.00" lengthAdjust="spacingAndGlyphs" stroke="#231f20" stroke-width="0.16">RNA-seq reads (%)</text>
<text x="129.50" y="602.60" font-size="11.6" fill="#000" font-weight="bold" textLength="7.40" lengthAdjust="spacingAndGlyphs">K</text>
<text x="185.80" y="611.80" font-size="8" textLength="114.00" lengthAdjust="spacingAndGlyphs">chr5:170,738,817-170,738,856</text>
<text x="177.50" y="616.80" font-size="8.5" text-anchor="end" font-style="italic" textLength="17.50" lengthAdjust="spacingAndGlyphs">TLX3</text>
<text x="180.40" y="627.00" font-size="8.5" text-anchor="end" textLength="24.00" lengthAdjust="spacingAndGlyphs">3' UTR</text>
<rect x="185.00" y="616.20" width="328.00" height="2.60" fill="#1f1878"/>
<text y="630.00" font-size="9.58" text-anchor="middle" fill-opacity="0.92" transform="scale(0.96 1)"><tspan x="196.97" fill="#45427c">C</tspan><tspan x="205.51" fill="#45427c">C</tspan><tspan x="214.04" fill="#45427c">C</tspan><tspan x="222.57" fill="#eaa060">G</tspan><tspan x="231.10" fill="#e06650">T</tspan><tspan x="239.63" fill="#45427c">C</tspan><tspan x="248.16" fill="#45427c">C</tspan><tspan x="256.69" fill="#45427c">C</tspan><tspan x="265.22" fill="#eaa060">G</tspan><tspan x="273.76" fill="#45427c">C</tspan><tspan x="282.29" fill="#45427c">C</tspan><tspan x="290.82" fill="#45427c">C</tspan><tspan x="299.35" fill="#45427c">C</tspan><tspan x="307.88" fill="#2fa35c">A</tspan><tspan x="316.41" fill="#eaa060">G</tspan><tspan x="324.94" fill="#eaa060">G</tspan><tspan x="333.47" fill="#45427c">C</tspan><tspan x="342.01" fill="#45427c">C</tspan><tspan x="350.54" fill="#45427c">C</tspan><tspan x="359.07" fill="#eaa060">G</tspan><tspan x="367.60" fill="#eaa060">G</tspan><tspan x="376.13" fill="#eaa060">G</tspan><tspan x="384.66" fill="#45427c">C</tspan><tspan x="393.19" fill="#45427c">C</tspan><tspan x="401.72" fill="#e06650">T</tspan><tspan x="410.26" fill="#eaa060">G</tspan><tspan x="418.79" fill="#2fa35c">A</tspan><tspan x="427.32" fill="#45427c">C</tspan><tspan x="435.85" fill="#2fa35c">A</tspan><tspan x="444.38" fill="#2fa35c">A</tspan><tspan x="452.91" fill="#eaa060">G</tspan><tspan x="461.44" fill="#2fa35c">A</tspan><tspan x="469.97" fill="#2fa35c">A</tspan><tspan x="478.51" fill="#2fa35c">A</tspan><tspan x="487.04" fill="#eaa060">G</tspan><tspan x="495.57" fill="#45427c">C</tspan><tspan x="504.10" fill="#eaa060">G</tspan><tspan x="512.63" fill="#45427c">C</tspan><tspan x="521.16" fill="#45427c">C</tspan><tspan x="529.69" fill="#e06650">T</tspan></text>
<path d="M345.10 608.00L348.10 611.00L345.10 614.00L342.10 611.00Z" fill="#e2303a" stroke="#2a0c0c" stroke-width="1.1" stroke-linejoin="miter"/>
<path d="M143.40 632.70H140.60V714.90H143.40" fill="none" stroke="#2a2a2a" stroke-width="0.8"/>
<text x="135.20" y="673.40" font-size="8.6" transform="rotate(-90 135.20 673.40)" text-anchor="middle" textLength="67.50" lengthAdjust="spacingAndGlyphs">DND-41 RNA-seq</text>
<text x="181.00" y="635.80" font-size="8" text-anchor="end" textLength="34.50" lengthAdjust="spacingAndGlyphs">coverage</text>
<text x="181.00" y="646.00" font-size="8" text-anchor="end" textLength="29.00" lengthAdjust="spacingAndGlyphs">[0 - 129]</text>
<text x="181.00" y="680.40" font-size="8" text-anchor="end" textLength="36.50" lengthAdjust="spacingAndGlyphs">raw reads</text>
<rect x="185.00" y="635.60" width="150.00" height="5.00" fill="#b4b4b4"/>
<rect x="335.00" y="635.10" width="112.00" height="5.50" fill="#b4b4b4"/>
<rect x="447.00" y="632.60" width="65.60" height="8.00" fill="#b4b4b4"/>
<path d="M193.19 632.6v8M201.38 632.6v8M209.57 632.6v8M217.76 632.6v8M225.95 632.6v8M234.14 632.6v8M242.33 632.6v8M250.52 632.6v8M258.71 632.6v8M266.90 632.6v8M275.09 632.6v8M283.28 632.6v8M291.47 632.6v8M299.66 632.6v8M307.85 632.6v8M316.04 632.6v8M324.23 632.6v8M332.42 632.6v8M340.61 632.6v8M348.80 632.6v8M356.99 632.6v8M365.18 632.6v8M373.37 632.6v8M381.56 632.6v8M389.75 632.6v8M397.94 632.6v8M406.13 632.6v8M414.32 632.6v8M422.51 632.6v8M430.70 632.6v8M438.89 632.6v8M447.08 632.6v8M455.27 632.6v8M463.46 632.6v8M471.65 632.6v8M479.84 632.6v8M488.03 632.6v8M496.22 632.6v8M504.41 632.6v8" fill="none" stroke="#d2d2d2" stroke-width="0.6" stroke-opacity="0.55"/>
<rect x="185.00" y="632.00" width="262.00" height="3.00" fill="#fff"/>
<rect x="339.60" y="635.60" width="8.70" height="3.60" fill="#10a041"/>
<path d="M185 642H512.4V714.6H446.5V703.6H348.3V695.4H339.6L324 694.4L315 692.5L290 687.7V681.5L266.5 681L243.5 678L226 675.2L200 673.3V670.8H185Z" fill="#c5c5c5"/>
<rect x="339.60" y="642.00" width="8.70" height="53.40" fill="#90c890"/>
<rect x="339.60" y="656.60" width="8.70" height="2.60" fill="#8aa8b4"/>
<rect x="339.60" y="667.60" width="8.70" height="1.60" fill="#78b47c"/>
<rect x="339.60" y="650.50" width="8.70" height="1.20" fill="#a4d2a4"/>
<rect x="185.00" y="675.80" width="7.50" height="3.80" fill="#e6b0a6"/>
<rect x="192.50" y="677.40" width="24.00" height="2.20" fill="#cfcfcf"/>
<rect x="185.00" y="673.60" width="20.00" height="1.00" fill="#dedede"/>
<rect x="185.00" y="681.60" width="80.00" height="0.90" fill="#d4d4d4"/>
<rect x="185.00" y="684.50" width="7.50" height="1.10" fill="#c3d6e4"/>
<rect x="192.50" y="684.50" width="82.00" height="1.00" fill="#d6d6d6"/>
<rect x="185.00" y="691.00" width="95.00" height="1.00" fill="#d2d2d2"/>
<rect x="270.00" y="691.00" width="20.00" height="0.90" fill="#dcdcdc"/>
<rect x="208.50" y="690.90" width="9.00" height="1.20" fill="#5a5aa0"/>
<rect x="217.50" y="690.90" width="15.50" height="1.20" fill="#e6b48c"/>
<rect x="249.00" y="690.90" width="9.50" height="1.20" fill="#5a5aa0"/>
<rect x="185.00" y="696.20" width="8.50" height="1.00" fill="#c4c4c4"/>
<rect x="208.50" y="642.60" width="15.50" height="1.00" fill="#a6a6bc"/>
<rect x="249.00" y="642.60" width="10.00" height="1.00" fill="#a6a6bc"/>
<rect x="290.80" y="642.60" width="9.20" height="1.00" fill="#a6a6bc"/>
<rect x="208.50" y="655.20" width="9.00" height="4.30" fill="#a0a2c8"/>
<rect x="217.50" y="655.20" width="7.50" height="4.30" fill="#d8c2b4"/>
<rect x="248.80" y="657.00" width="9.70" height="2.80" fill="#a2a4c8"/>
<rect x="290.80" y="655.20" width="16.70" height="4.30" fill="#a8aacb"/>
<rect x="265.60" y="656.50" width="9.00" height="1.00" fill="#c4c2b0"/>
<rect x="233.80" y="664.10" width="8.20" height="1.00" fill="#d2bca8"/>
<rect x="216.50" y="668.90" width="8.50" height="1.00" fill="#d2c2b4"/>
<rect x="316.00" y="658.30" width="8.00" height="1.00" fill="#bcbcb0"/>
<rect x="315.80" y="674.95" width="8.00" height="1.30" fill="#1c1c1c"/>
<rect x="348.30" y="642.80" width="92.00" height="0.80" fill="#e2e2e2"/>
<rect x="414.00" y="645.40" width="24.30" height="4.60" fill="#fff"/>
<rect x="348.60" y="650.80" width="15.40" height="1.20" fill="#f0f0f0"/>
<rect x="406.00" y="649.20" width="24.00" height="2.30" fill="#fff"/>
<rect x="414.00" y="652.20" width="31.00" height="1.80" fill="#fff"/>
<rect x="348.60" y="655.00" width="48.00" height="1.30" fill="#f2f2f2"/>
<rect x="382.00" y="656.30" width="14.70" height="2.20" fill="#f6f6f6"/>
<rect x="366.00" y="659.00" width="26.00" height="0.80" fill="#e6e6e6"/>
<rect x="349.60" y="657.35" width="6.40" height="1.10" fill="#8c8c9c"/>
<rect x="397.70" y="686.75" width="8.60" height="1.10" fill="#747474"/>
<rect x="430.50" y="668.85" width="8.60" height="1.10" fill="#747474"/>
<rect x="348.30" y="696.00" width="98.20" height="0.80" fill="#dedede"/>
<rect x="414.00" y="705.60" width="32.50" height="0.90" fill="#d0d0d0"/>
<rect x="504.60" y="656.40" width="7.80" height="1.40" fill="#e2e2e2"/>
<rect x="504.60" y="667.40" width="7.80" height="1.30" fill="#b0b0b0"/>
<rect x="504.60" y="681.40" width="7.80" height="1.30" fill="#b0b0b0"/>
</svg>
<div id="frame"></div>
</body>
</html>
